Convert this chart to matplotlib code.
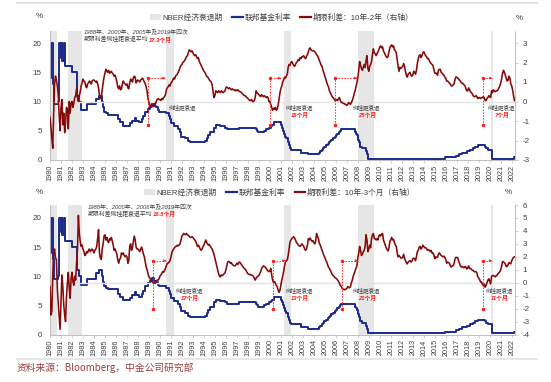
import numpy as np
import matplotlib
matplotlib.use('Agg')
import matplotlib.pyplot as plt
from matplotlib.patches import Patch
from matplotlib.lines import Line2D

plt.rcParams['font.family'] = ['Liberation Sans', 'Noto Sans CJK SC']
plt.rcParams['axes.unicode_minus'] = False

# ---------------- data ----------------
START_YEAR = 1980  # monthly series start (Jan 1980)

spread_10y2y = [
    -0.8, -1.3, -1.9, -2.4, -0.6, 0.9, 1.3, 1.1, 0.8, 0.3, -0.7, -1.5,      # 1980
    -0.3, 0.1, -1.2, -0.6, -1.6, -1.1, -0.3, -0.4, -1.4, 0.0, -0.6, -0.1,   # 1981
    0.0, -0.3, -0.1, 0.2, 0.3, 0.65, 0.2, 0.0, 0.3, 0.5, 0.8, 0.95,         # 1982
    1.15, 1.05, 1.0, 0.8, 0.7, 0.9, 0.95, 1.05, 1.0, 0.9, 1.05, 1.1,        # 1983
    1.1, 1.05, 1.0, 1.05, 0.9, 0.7, 0.3, 0.15, 0.25, 0.6, 0.95, 1.25,       # 1984
    1.45, 1.65, 1.55, 1.5, 1.6, 1.45, 1.5, 1.55, 1.45, 1.4, 1.3, 1.35,      # 1985
    1.2, 1.0, 0.75, 0.65, 0.8, 0.6, 0.65, 0.9, 1.05, 0.95, 0.9, 0.85,       # 1986
    0.9, 0.7, 0.65, 0.95, 1.15, 1.1, 1.0, 1.2, 1.3, 1.25, 0.95, 1.05,       # 1987
    1.1, 1.05, 1.0, 1.1, 1.15, 1.2, 1.1, 1.0, 0.9, 0.75, 0.5, 0.15,         # 1988
    -0.05, -0.15, -0.25, -0.3, -0.2, -0.25, -0.1, -0.15, 0.0, 0.1, 0.15, 0.1,  # 1989
    0.1, 0.05, 0.15, 0.1, 0.2, 0.25, 0.35, 0.6, 0.7, 0.75, 0.85, 0.8,       # 1990
    0.95, 1.0, 1.1, 1.2, 1.15, 1.3, 1.35, 1.4, 1.5, 1.6, 1.75, 1.85,        # 1991
    1.9, 2.0, 2.05, 2.1, 2.2, 2.3, 2.35, 2.5, 2.65, 2.6, 2.55, 2.6,         # 1992
    2.5, 2.4, 2.35, 2.4, 2.3, 2.2, 2.25, 2.05, 1.95, 1.85, 1.75, 1.65,      # 1993
    1.55, 1.5, 1.4, 1.3, 1.25, 1.2, 1.1, 1.05, 1.0, 0.85, 0.5, 0.2,         # 1994
    0.3, 0.55, 0.5, 0.45, 0.55, 0.5, 0.45, 0.55, 0.5, 0.45, 0.5, 0.55,      # 1995
    0.7, 0.75, 0.7, 0.65, 0.7, 0.65, 0.6, 0.65, 0.6, 0.6, 0.55, 0.6,        # 1996
    0.55, 0.6, 0.55, 0.5, 0.5, 0.45, 0.4, 0.35, 0.3, 0.3, 0.25, 0.2,        # 1997
    0.15, 0.1, 0.05, 0.05, 0.1, 0.0, 0.0, 0.05, 0.2, 0.55, 0.45, 0.4,       # 1998
    0.35, 0.3, 0.25, 0.35, 0.3, 0.25, 0.3, 0.25, 0.2, 0.25, 0.2, 0.0,       # 1999
    0.0, -0.15, -0.3, -0.45, -0.35, -0.4, -0.3, -0.45, -0.4, -0.2, 0.1, 0.45,  # 2000
    0.65, 0.8, 1.0, 1.1, 1.25, 1.2, 1.3, 1.4, 1.75, 1.9, 1.85, 2.0,         # 2001
    2.05, 1.95, 1.85, 1.8, 1.9, 2.0, 2.05, 2.15, 2.1, 2.25, 2.2, 2.3,       # 2002
    2.3, 2.35, 2.25, 2.2, 2.3, 2.4, 2.55, 2.7, 2.75, 2.65, 2.6, 2.6,        # 2003
    2.6, 2.55, 2.5, 2.4, 2.35, 2.25, 2.1, 2.0, 1.85, 1.8, 1.6, 1.45,        # 2004
    1.3, 1.15, 1.0, 0.85, 0.75, 0.55, 0.45, 0.35, 0.25, 0.2, 0.15, 0.05,    # 2005
    0.05, 0.1, 0.05, 0.15, 0.2, 0.05, -0.05, -0.05, -0.1, -0.1, -0.15, -0.15,  # 2006
    -0.2, -0.15, -0.05, -0.1, -0.15, -0.05, 0.05, 0.2, 0.4, 0.55, 0.75, 0.95,  # 2007
    1.2, 1.6, 2.05, 1.85, 1.7, 1.6, 1.75, 1.9, 1.75, 2.1, 2.35, 1.7,        # 2008
    1.55, 1.8, 1.9, 2.05, 2.4, 2.7, 2.5, 2.45, 2.35, 2.45, 2.55, 2.65,      # 2009
    2.8, 2.85, 2.75, 2.8, 2.6, 2.5, 2.4, 2.3, 2.25, 2.3, 2.55, 2.75,        # 2010
    2.85, 2.9, 2.8, 2.85, 2.65, 2.6, 2.5, 2.15, 1.8, 1.55, 1.75, 1.7,       # 2011
    1.75, 1.8, 1.95, 1.8, 1.55, 1.35, 1.25, 1.4, 1.45, 1.5, 1.35, 1.3,      # 2012
    1.35, 1.55, 1.5, 1.4, 1.6, 1.95, 2.2, 2.35, 2.4, 2.25, 2.35, 2.5,       # 2013
    2.55, 2.45, 2.35, 2.3, 2.2, 2.2, 2.1, 2.0, 1.95, 1.9, 1.85, 1.65,       # 2014
    1.45, 1.45, 1.45, 1.35, 1.6, 1.65, 1.65, 1.5, 1.45, 1.4, 1.35, 1.25,    # 2015
    1.2, 1.05, 1.05, 1.0, 0.95, 0.9, 0.8, 0.8, 0.85, 0.9, 1.1, 1.25,        # 2016
    1.25, 1.2, 1.15, 1.1, 1.05, 0.95, 0.95, 0.9, 0.85, 0.8, 0.65, 0.55,     # 2017
    0.55, 0.7, 0.6, 0.5, 0.45, 0.4, 0.3, 0.25, 0.25, 0.3, 0.25, 0.15,       # 2018
    0.2, 0.2, 0.15, 0.2, 0.2, 0.25, 0.2, 0.05, 0.05, 0.15, 0.2, 0.3,        # 2019
    0.25, 0.2, 0.55, 0.45, 0.6, 0.55, 0.5, 0.55, 0.55, 0.6, 0.7, 0.8,       # 2020
    0.95, 1.15, 1.45, 1.6, 1.5, 1.35, 1.2, 1.05, 1.1, 1.3, 1.2, 0.9,        # 2021
    0.8, 0.6, 0.3, 0.05,                                                    # 2022
]

spread_10y3m = [
    -0.3, -2.5, -2.2, 0.6, 2.4, 2.6, 1.9, 1.8, -0.4, -1.6, -2.6, -3.6,      # 1980
    -1.6, 0.6, -0.3, -1.7, -2.5, -3.0, -1.1, 0.0, 0.8, -0.4, -1.2, 0.3,     # 1981
    0.8, 0.1, -0.2, 0.5, 0.2, 1.5, 2.6, 5.2, 3.8, 3.2, 2.8, 2.9,            # 1982
    2.6, 2.4, 2.1, 2.2, 2.4, 2.3, 2.5, 2.6, 2.4, 2.5, 2.6, 2.5,             # 1983
    2.3, 2.5, 2.6, 2.8, 3.4, 4.1, 2.3, 1.9, 1.8, 2.6, 3.0, 3.6,             # 1984
    3.7, 3.3, 3.5, 3.2, 3.1, 3.4, 3.3, 3.5, 3.2, 2.9, 2.5, 2.6,             # 1985
    2.4, 2.2, 1.75, 1.5, 1.8, 1.9, 2.3, 2.2, 2.3, 2.1, 2.0, 2.1,            # 1986
    2.0, 1.5, 1.7, 2.8, 3.0, 2.5, 2.7, 3.2, 3.6, 3.3, 2.75, 2.6,            # 1987
    2.6, 2.5, 2.4, 2.6, 2.75, 2.5, 2.2, 2.0, 1.6, 1.2, 1.0, 0.7,            # 1988
    0.45, 0.35, 0.25, 0.1, 0.05, -0.05, 0.0, -0.05, 0.15, 0.2, 0.2, 0.3,    # 1989
    0.5, 0.6, 0.7, 0.85, 0.8, 0.95, 1.1, 1.3, 1.5, 1.5, 1.6, 1.7,           # 1990
    2.0, 2.3, 2.5, 2.6, 2.7, 2.8, 2.8, 2.9, 2.85, 2.9, 3.0, 3.3,            # 1991
    3.6, 3.7, 3.8, 3.75, 3.7, 3.8, 3.7, 3.65, 3.6, 3.5, 3.5, 3.55,          # 1992
    3.5, 3.4, 3.3, 3.2, 3.0, 2.8, 2.9, 2.75, 2.6, 2.5, 2.6, 2.8,            # 1993
    2.9, 3.1, 3.3, 3.1, 3.0, 2.9, 2.95, 2.8, 2.7, 2.6, 2.4, 2.2,            # 1994
    1.9, 1.6, 1.3, 1.0, 0.7, 0.5, 0.45, 0.6, 0.55, 0.6, 0.7, 0.75,          # 1995
    1.0, 1.3, 1.6, 1.65, 1.6, 1.5, 1.55, 1.4, 1.35, 1.3, 1.3, 1.4,          # 1996
    1.5, 1.4, 1.55, 1.6, 1.5, 1.4, 1.3, 1.2, 1.1, 1.05, 0.95, 0.8,          # 1997
    0.7, 0.65, 0.65, 0.6, 0.6, 0.55, 0.5, 0.35, 0.2, 0.35, 0.45, 0.5,       # 1998
    0.55, 0.7, 0.85, 1.1, 1.2, 1.3, 1.25, 1.2, 1.1, 1.0, 0.9, 0.85,         # 1999
    0.9, 1.1, 0.6, 0.2, 0.0, 0.1, -0.05, -0.2, -0.3, -0.55, -0.75, -0.6,    # 2000
    -0.2, 0.2, 0.5, 0.85, 1.3, 1.6, 1.7, 1.75, 2.1, 2.6, 3.15, 3.3,         # 2001
    3.4, 3.5, 3.55, 3.45, 3.3, 3.1, 3.05, 2.9, 2.85, 2.8, 2.9, 3.0,         # 2002
    2.9, 2.8, 2.6, 2.5, 2.6, 2.9, 3.4, 3.3, 3.45, 3.3, 3.2, 3.25,           # 2003
    3.1, 3.0, 3.2, 3.8, 3.6, 3.4, 3.05, 2.9, 2.7, 2.5, 2.3, 2.1,            # 2004
    1.95, 1.75, 1.6, 1.4, 1.2, 1.1, 0.95, 0.8, 0.65, 0.55, 0.5, 0.4,        # 2005
    0.35, 0.3, 0.2, 0.1, -0.05, -0.2, -0.3, -0.45, -0.5, -0.5, -0.55, -0.5, # 2006
    -0.45, -0.3, -0.35, -0.4, -0.3, 0.0, 0.2, 0.5, 0.7, 0.9, 1.1, 1.3,      # 2007
    1.9, 2.3, 2.8, 2.5, 2.1, 2.2, 2.4, 2.5, 2.8, 3.7, 3.3, 2.4,             # 2008
    2.6, 2.9, 2.7, 3.4, 3.7, 3.8, 3.4, 3.4, 3.3, 3.4, 3.3, 3.6,             # 2009
    3.7, 3.6, 3.75, 3.8, 3.3, 3.1, 2.9, 2.7, 2.55, 2.45, 2.7, 3.2,          # 2010
    3.3, 3.5, 3.3, 3.35, 3.1, 2.9, 2.8, 2.3, 2.0, 2.1, 2.0, 1.9,            # 2011
    1.9, 1.95, 2.2, 1.9, 1.7, 1.55, 1.45, 1.6, 1.65, 1.7, 1.6, 1.65,        # 2012
    1.85, 1.9, 1.85, 1.7, 2.0, 2.4, 2.5, 2.75, 2.8, 2.6, 2.7, 2.9,          # 2013
    2.8, 2.7, 2.7, 2.65, 2.5, 2.55, 2.5, 2.4, 2.5, 2.3, 2.3, 2.15,          # 2014
    1.85, 2.0, 1.95, 1.95, 2.2, 2.3, 2.2, 2.1, 2.05, 2.0, 2.05, 1.95,       # 2015
    1.8, 1.5, 1.6, 1.55, 1.5, 1.3, 1.2, 1.3, 1.3, 1.45, 1.8, 1.95,          # 2016
    1.95, 1.95, 1.7, 1.5, 1.3, 1.2, 1.25, 1.2, 1.15, 1.25, 1.2, 1.05,       # 2017
    1.15, 1.3, 1.1, 1.1, 1.05, 0.95, 0.95, 0.85, 0.85, 0.85, 0.75, 0.45,    # 2018
    0.35, 0.25, 0.05, 0.05, -0.1, -0.25, -0.1, -0.35, -0.2, 0.0, 0.2, 0.3,  # 2019
    0.1, -0.1, 0.5, 0.55, 0.55, 0.5, 0.45, 0.55, 0.55, 0.7, 0.75, 0.85,     # 2020
    1.0, 1.3, 1.65, 1.6, 1.55, 1.45, 1.25, 1.25, 1.4, 1.55, 1.5, 1.45,      # 2021
    1.7, 1.85, 1.95, 2.0,                                                   # 2022
]

# Fed funds rate: change dates (decimal year) and new level
ff_dates = [1980.0, 1980.12, 1980.25, 1980.33, 1980.72, 1980.8, 1980.86, 1980.98, 1981.05, 1981.12,
            1981.28, 1981.4, 1982.0, 1982.42, 1982.5, 1982.6, 1982.85, 1983.35, 1984.2, 1984.45,
            1984.7, 1984.8, 1984.9, 1985.05, 1985.3, 1986.2, 1986.4, 1986.6, 1987.3, 1987.45,
            1987.7, 1987.85, 1988.1, 1988.35, 1988.5, 1988.65, 1988.95, 1989.1, 1989.25, 1989.5,
            1989.6, 1989.8, 1989.95, 1990.55, 1990.85, 1990.95, 1991.05, 1991.3, 1991.65, 1991.8,
            1991.95, 1992.3, 1992.55, 1992.7, 1994.1, 1994.25, 1994.4, 1994.6, 1994.9, 1995.1,
            1995.5, 1995.95, 1996.08, 1997.2, 1998.75, 1998.85, 1998.9, 1999.5, 1999.65, 1999.9,
            2000.1, 2000.2, 2000.4, 2001.0, 2001.1, 2001.2, 2001.3, 2001.4, 2001.5, 2001.65,
            2001.75, 2001.85, 2001.95, 2002.85, 2003.5, 2004.5, 2004.6, 2004.7, 2004.85, 2004.95,
            2005.1, 2005.25, 2005.4, 2005.5, 2005.6, 2005.75, 2005.9, 2006.0, 2006.1, 2006.25,
            2006.35, 2006.5, 2007.7, 2007.8, 2007.95, 2008.05, 2008.1, 2008.2, 2008.35, 2008.75,
            2008.85, 2008.95, 2015.95, 2016.95, 2017.2, 2017.45, 2017.95, 2018.2, 2018.45, 2018.7,
            2018.97, 2019.58, 2019.7, 2019.8, 2020.17, 2020.21, 2022.2, 2022.3]
ff_rates = [14.0, 20.0, 13.0, 9.5, 10.0, 15.0, 20.0, 17.5, 20.0, 17.0,
            20.0, 16.0, 15.0, 13.0, 11.0, 10.0, 8.5, 9.5, 10.5, 11.0,
            10.0, 9.0, 8.25, 8.0, 7.75, 7.0, 6.5, 5.875, 6.25, 6.75,
            7.25, 6.75, 6.5, 7.0, 7.5, 8.25, 8.75, 9.25, 9.75, 9.25,
            9.0, 8.5, 8.25, 8.0, 7.5, 7.0, 6.25, 5.75, 5.25, 4.75,
            4.0, 3.75, 3.25, 3.0, 3.25, 3.75, 4.25, 4.75, 5.5, 6.0,
            5.75, 5.5, 5.25, 5.5, 5.25, 5.0, 4.75, 5.0, 5.25, 5.5,
            5.75, 6.0, 6.5, 6.0, 5.5, 5.0, 4.5, 4.0, 3.75, 3.0,
            2.5, 2.0, 1.75, 1.25, 1.0, 1.25, 1.5, 1.75, 2.0, 2.25,
            2.5, 2.75, 3.0, 3.25, 3.5, 3.75, 4.0, 4.25, 4.5, 4.75,
            5.0, 5.25, 4.75, 4.5, 4.25, 3.5, 3.0, 2.25, 2.0, 1.5,
            1.0, 0.25, 0.5, 0.75, 1.0, 1.25, 1.5, 1.75, 2.0, 2.25,
            2.5, 2.25, 2.0, 1.75, 1.25, 0.25, 0.5, 0.5]

recessions = [(1980.08, 1980.6), (1981.6, 1982.95), (1990.58, 1991.25),
              (2001.25, 2001.92), (2008.0, 2009.5), (2020.15, 2020.33)]

years = list(range(1980, 2023))

panels = [
    dict(spread=spread_10y2y, label='期限利差：10年-2年（右轴）', rlim=(-3, 3.6), rticks=range(-3, 4),
         llim=(0, 22), note1='1988年、2000年、2005年及2019年四次', note2='期限利差倒挂距衰退平均',
         note_red='17.3个月',
         inv=[1988.92, 2000.0, 2005.93, 2019.43], rec=[1990.46, 2001.0, 2007.93, 2020.2],
         months=['', '15个月', '25个月', '7个月'], vlo=-1.2, vhi=1.2,
         txt_x=[1992.1, 2002.75, 2008.85, 2021.1], txt_y=-0.3, mon_y=-0.68),
    dict(spread=spread_10y3m, label='期限利差：10年-3个月（右轴）', rlim=(-4, 6), rticks=range(-4, 7),
         llim=(0, 22.2), note1='1988年、2000年、2006年及2019年四次', note2='期限利差倒挂距衰退平均',
         note_red='16.5个月',
         inv=[1989.37, 2000.3, 2006.57, 2019.4], rec=[1990.55, 2001.4, 2008.0, 2020.2],
         months=['17个月', '13个月', '21个月', '11个月'], vlo=-2.0, vhi=1.7,
         txt_x=[1992.75, 2002.75, 2008.85, 2020.95], txt_y=-0.6, mon_y=-1.2),
]

# ---------------- figure ----------------
W, H = 551, 382
fig = plt.figure(figsize=(W / 100, H / 100), dpi=100)

NAVY = '#1B2A8C'
DRED = '#870A0A'
RED = '#FF1A1A'
GRID = '#BFBFBF'
TXT = '#404040'

x_sp = START_YEAR + np.arange(len(spread_10y2y)) / 12.0
x_sp3 = START_YEAR + np.arange(len(spread_10y3m)) / 12.0

ax_boxes = [(50, 515, 31.3, 160), (50, 515, 205, 334.5)]
legend_y = [18, 193]
legend_x = [282, 280]
pct_right = [(519, 18), (508, 192)]
note_pos = [(84, 31.5), (88, 206)]

for i, (p, box) in enumerate(zip(panels, ax_boxes)):
    x0, x1, yt, yb = box
    ax = fig.add_axes([x0 / W, 1 - yb / H, (x1 - x0) / W, (yb - yt) / H])
    ax2 = ax.twinx()
    xs = x_sp if i == 0 else x_sp3

    for a, b in recessions:
        ax.axvspan(a, b, color='#E6E6E6', lw=0, zorder=0)
    ax.plot(ff_dates, ff_rates, drawstyle='steps-post', color=NAVY, lw=1.4, zorder=3)
    ax.set_xlim(1980, 2022.3)
    ax.set_ylim(*p['llim'])
    ax.set_yticks([0, 5, 10, 15, 20])
    ax.set_xticks(years)
    ax.set_xticklabels([str(y) for y in years], rotation=90, fontsize=5.2, color=TXT)
    ax.tick_params(axis='x', length=2, width=0.5, color=GRID, pad=1.5)
    ax.tick_params(axis='y', length=0, labelsize=5.8, labelcolor=TXT, pad=6)

    ax2.axhline(0, color='#E3E3E3', lw=1.0, zorder=1)
    ax2.plot(xs, p['spread'], color=DRED, lw=1.15, zorder=4)
    ax2.set_ylim(*p['rlim'])
    ax2.set_yticks(list(p['rticks']))
    ax2.tick_params(axis='y', length=2.5, width=0.5, color=GRID, labelsize=5.8, labelcolor=TXT, pad=3)

    for a_ in (ax, ax2):
        a_.spines['top'].set_visible(False)
        for s in ('left', 'right', 'bottom'):
            a_.spines[s].set_color(GRID)
            a_.spines[s].set_linewidth(0.6)
        a_.patch.set_visible(False)

    # inversion annotations
    for xi, xr, mon, tx in zip(p['inv'], p['rec'], p['months'], p['txt_x']):
        ax2.plot([xi, xi], [p['vlo'], p['vhi']], ls=(0, (2, 1.5)), color=RED, lw=0.6, zorder=5)
        ax2.plot([xi, xr], [p['vhi'], p['vhi']], ls=(0, (2, 1.5)), color=RED, lw=0.6, zorder=5)
        ax2.plot([xi, xi], [p['vlo'], p['vhi']], ls='none', marker='o', ms=1.5, color=RED, zorder=5)
        ax2.annotate('', xy=(xr, p['vhi']), xytext=(xr - 0.35, p['vhi']),
                     arrowprops=dict(arrowstyle='-|>', color=RED, lw=0.5, mutation_scale=3.5), zorder=5)
        ax2.text(tx, p['txt_y'], '倒挂距衰退', fontsize=4.0, color=TXT, ha='center', va='center',
                 style='italic', zorder=6)
        if mon:
            ax2.text(tx, p['mon_y'], mon, fontsize=4.2, color=RED, ha='center', va='center',
                     style='italic', fontweight='bold', zorder=6)

    # top-left note
    nx, ny = note_pos[i]
    fig.text(nx / W, 1 - ny / H, p['note1'], fontsize=4.2, color=TXT, style='italic', va='center')
    t2 = fig.text(nx / W, 1 - (ny + 8) / H, p['note2'], fontsize=4.2, color=TXT, style='italic', va='center')
    ax.annotate(p['note_red'], xy=(1, 0.5), xycoords=t2, va='center', ha='left', fontsize=4.2,
                color=RED, style='italic', fontweight='bold')

    # legend
    handles = [Patch(facecolor='#E6E6E6', edgecolor='none'),
               Line2D([], [], color=NAVY, lw=1.6),
               Line2D([], [], color=DRED, lw=1.6)]
    fig.legend(handles, ['NBER经济衰退期', '联邦基金利率', p['label']], loc='center',
               bbox_to_anchor=(legend_x[i] / W, 1 - legend_y[i] / H), ncol=3, frameon=False,
               fontsize=5.6, handlelength=1.35, handleheight=0.8, handletextpad=0.25,
               columnspacing=1.2, labelcolor=TXT)

    # % labels
    fig.text(39 / W, 1 - (legend_y[i] - 1) / H, '%', fontsize=5.8, color=TXT, ha='center', va='center')
    pr = pct_right[i]
    fig.text(pr[0] / W, 1 - pr[1] / H, '%', fontsize=5.8, color=TXT, ha='center', va='center')

# separator lines and source
fig.add_artist(Line2D([17 / W, 537 / W], [1 - 2.5 / H] * 2, color='#E3E3E3', lw=1.5))
fig.add_artist(Line2D([17 / W, 537 / W], [1 - 359 / H] * 2, color='#E3E3E3', lw=1.2))
fig.text(17 / W, 1 - 368 / H, '资料来源：Bloomberg，中金公司研究部', fontsize=7, color='#9C3D3D',
         va='center', family=['Noto Sans CJK SC', 'DejaVu Sans'])

fig.savefig('out.png', dpi=100)
